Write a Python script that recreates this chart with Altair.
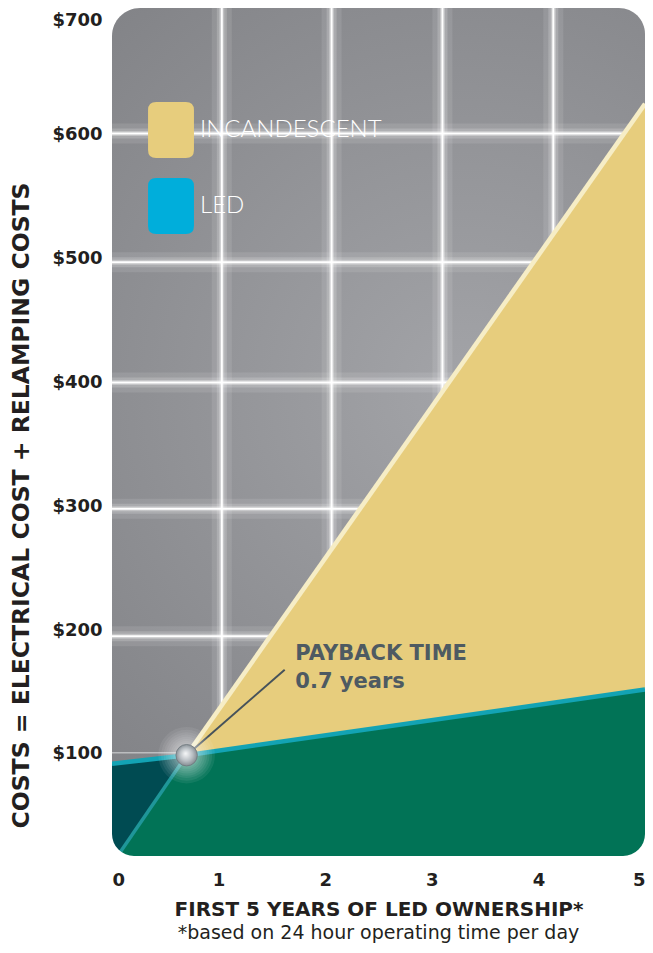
import math
import altair as alt
import pandas as pd

# ---------------- data ----------------
years = [0, 0.7, 5]
incandescent = [11, 99, 625]
led = [92, 99, 152]

x_ticks = [0, 1, 2, 3, 4, 5]
y_ticks = [100, 200, 300, 400, 500, 600, 700]

grid_years = [1.03, 2.06, 3.10, 4.14]
grid_costs = [601, 497, 400, 298, 195]
faint_costs = [101]

payback_year = 0.7
payback_cost = 99
leader_years = [0.7, 1.62]
leader_costs = [99, 168]
note_text = ["PAYBACK TIME", "0.7 years"]
note_years = [1.72, 1.72]
note_costs = [175.8, 153.2]

legend_names = ["INCANDESCENT", "LED"]
legend_colors = ["#e7cd7d", "#00aedb"]

# ---------------- tables ----------------
df = pd.DataFrame({"year": years, "incandescent": incandescent, "led": led})
gx = pd.DataFrame({"gx": grid_years})
gy = pd.DataFrame({"gy": grid_costs})
fy = pd.DataFrame({"gy": faint_costs})
pay = pd.DataFrame({"year": [payback_year], "cost": [payback_cost]})
leader = pd.DataFrame({"year": leader_years, "cost": leader_costs})
notes = pd.DataFrame({"year": note_years, "cost": note_costs, "text": note_text})
leg = pd.DataFrame({"name": legend_names})
one = pd.DataFrame({"k": [0]})

FONT = "DejaVu Sans"
INK = "#231f20"

xs = alt.Scale(domain=[0, 5], nice=False, zero=False)
ys = alt.Scale(domain=[17.6, 702.4], nice=False, zero=False)

xaxis = alt.Axis(values=x_ticks, format="d", grid=False, domain=False, ticks=False,
                 labelFlush=True, labelFont=FONT, labelFontWeight="bold", labelFontSize=18,
                 labelColor=INK, labelPadding=15,
                 title="FIRST 5 YEARS OF LED OWNERSHIP*", titleFont=FONT, titleFontSize=20,
                 titleFontWeight="bold", titleColor=INK, titlePadding=10)
yaxis = alt.Axis(values=y_ticks, labelExpr="'$' + datum.label", grid=False, domain=False,
                 ticks=False, labelFont=FONT, labelFontWeight="bold", labelFontSize=18,
                 labelColor=INK, labelPadding=10,
                 labelOffset={"condition": {"test": "datum.value >= 700", "value": 10},
                              "value": 0},
                 title="COSTS = ELECTRICAL COST + RELAMPING COSTS", titleFont=FONT,
                 titleFontSize=23.5, titleFontWeight="bold", titleColor=INK,
                 titleAngle=270, titleBaseline="middle", titleAlign="center",
                 titleX=-91, titleY=497)


def X(field="year"):
    return alt.X(f"{field}:Q", scale=xs, axis=xaxis)


def Y(field):
    return alt.Y(f"{field}:Q", scale=ys, axis=yaxis)


# background
bg = alt.Chart(one).mark_rect(
    fill={"gradient": "radial", "x1": 0.6, "y1": 0.45, "r1": 0, "x2": 0.6, "y2": 0.45, "r2": 0.75,
          "stops": [{"offset": 0, "color": "#a3a4a8"}, {"offset": 1, "color": "#7b7c80"}]},
    cornerRadiusTopLeft=28, cornerRadiusTopRight=26,
    cornerRadiusBottomLeft=22, cornerRadiusBottomRight=22,
).encode(x=alt.value(0), x2=alt.value("width"), y=alt.value(0), y2=alt.value("height"))


def vgrid(width, opacity):
    return alt.Chart(gx).mark_rule(color="white", strokeWidth=width, opacity=opacity).encode(
        x=X("gx"))


def hgrid(width, opacity):
    return alt.Chart(gy).mark_rule(color="white", strokeWidth=width, opacity=opacity).encode(
        y=Y("gy"))


grid_layers = [vgrid(20, 0.10), hgrid(20, 0.10), vgrid(10, 0.18), hgrid(10, 0.18),
               vgrid(5, 0.3), hgrid(5, 0.3), vgrid(2, 1), hgrid(2, 1)]
faint = alt.Chart(fy).mark_rule(color="#c9cacd", strokeWidth=1.5, opacity=0.8).encode(y=Y("gy"))

base = alt.Chart(df)
yellow = base.mark_area(color="#e7cd7d", clip=True).encode(x=X(), y=Y("incandescent"))
dark = base.mark_area(color="#004b52", clip=True).encode(x=X(), y=Y("led"))
green = base.transform_calculate(low="min(datum.incandescent, datum.led)").mark_area(
    color="#017356", clip=True).encode(x=X(), y=Y("low"))

inc_low = base.transform_filter(f"datum.year <= {payback_year}").mark_line(
    color="#1f9699", strokeWidth=3.5, clip=True).encode(x=X(), y=Y("incandescent"))
inc_high = base.transform_filter(f"datum.year >= {payback_year}").mark_line(
    color="#f6edc6", strokeWidth=4.5, clip=True).encode(x=X(), y=Y("incandescent"))
led_line = base.mark_line(color="#13a3b4", strokeWidth=4.5, clip=True).encode(
    x=X(), y=Y("led"))

R = 22
mask_bl = alt.Chart(one).mark_arc(color="white", clip=True, xOffset=R, yOffset=-R,
                                  theta=math.pi, theta2=1.5 * math.pi,
                                  radius=R * 1.45, radius2=R).encode(
    x=alt.value(0), y=alt.value("height"))
mask_br = alt.Chart(one).mark_arc(color="white", clip=True, xOffset=-R, yOffset=-R,
                                  theta=0.5 * math.pi, theta2=math.pi,
                                  radius=R * 1.45, radius2=R).encode(
    x=alt.value("width"), y=alt.value("height"))

lead = alt.Chart(leader).mark_line(color="#46525b", strokeWidth=2).encode(x=X(), y=Y("cost"))


def glow(size, opacity):
    return alt.Chart(pay).mark_point(filled=True, color="white", size=size, opacity=opacity,
                                     strokeWidth=0).encode(x=X(), y=Y("cost"))


glows = [glow(s, 0.07) for s in (3200, 2600, 2100, 1700, 1350, 1050, 800, 620)]

sphere = alt.Chart(pay).mark_point(
    filled=True, size=460, strokeWidth=0.8, stroke="#6f777d", opacity=1,
    fill={"gradient": "radial", "x1": 0.45, "y1": 0.42, "r1": 0, "x2": 0.5, "y2": 0.5, "r2": 0.55,
          "stops": [{"offset": 0, "color": "#f7f8f9"}, {"offset": 0.55, "color": "#b9bfc4"},
                    {"offset": 1, "color": "#7a8288"}]},
).encode(x=X(), y=Y("cost"))

note = alt.Chart(notes).mark_text(align="left", baseline="alphabetic", font=FONT,
                                  fontWeight="bold", fontSize=21, color="#4e5a62").encode(
    x=X(), y=Y("cost"), text="text:N")

rr = ("M -0.82,-0.71 Q -0.82,-1 -0.53,-1 L 0.53,-1 Q 0.82,-1 0.82,-0.71 L 0.82,0.71 "
      "Q 0.82,1 0.53,1 L -0.53,1 Q -0.82,1 -0.82,0.71 Z")
legend_layer = alt.Chart(leg).mark_point(filled=True, opacity=0).encode(
    x=alt.value(0), y=alt.value(0),
    color=alt.Color("name:N", scale=alt.Scale(domain=legend_names, range=legend_colors),
                    legend=alt.Legend(title=None, orient="none", legendX=31, legendY=94,
                                      symbolType=rr, symbolSize=3136, symbolOpacity=1,
                                      symbolStrokeWidth=0, labelFont="Lato",
                                      labelFontWeight=300, labelFontSize=24,
                                      labelColor="white", labelOffset=1, rowPadding=20,
                                      padding=0, labelLimit=400)))

chart = alt.layer(
    bg, *grid_layers, faint, yellow, dark, green, inc_low, inc_high, led_line,
    mask_bl, mask_br, lead, *glows, sphere, note, legend_layer,
).properties(
    width=533, height=848,
    autosize=alt.AutoSizeParams(type="none"),
    padding={"left": 104, "top": 0, "right": 0, "bottom": 89},
    title=alt.Title("*based on 24 hour operating time per day", orient="bottom",
                    anchor="middle", frame="group", font=FONT, fontSize=19,
                    fontWeight="normal", color=INK, offset=5),
).configure(background="white").configure_view(stroke=None)

chart.save("out.html", embed_options={"renderer": "svg", "actions": False})
